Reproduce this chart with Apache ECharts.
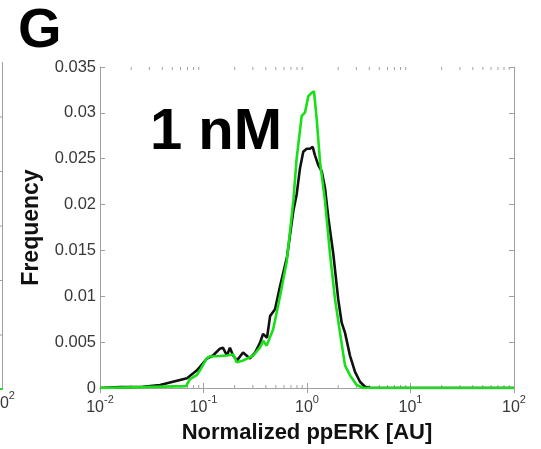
<!DOCTYPE html>
<html>
<head>
<meta charset="utf-8">
<script src="https://cdn.jsdelivr.net/npm/echarts@6/dist/echarts.min.js"></script>
<style>
  html, body { margin: 0; padding: 0; background: #fff; }
  #chart { width: 541px; height: 449px; }
</style>
</head>
<body>
<div id="chart"></div>
<script>
// ppERK distribution at 1 nM: two histogram traces on a log scale
const blackX = [0.01, 0.0156, 0.026, 0.038, 0.0507, 0.0693, 0.0865, 0.108, 0.1236, 0.144, 0.154, 0.1687, 0.180, 0.193, 0.211, 0.241, 0.281, 0.315, 0.352, 0.376, 0.411, 0.440, 0.491, 0.548, 0.641, 0.738, 0.794, 0.855, 0.920, 0.993, 1.069, 1.135, 1.194, 1.285, 1.387, 1.493, 1.607, 1.795, 2.004, 2.163, 2.328, 2.600, 2.911, 3.251, 3.631, 4.064, 7.93, 100];
const blackY = [0, 0.0001, 0.00014, 0.00032, 0.00068, 0.00107, 0.00193, 0.00322, 0.00354, 0.00429, 0.00440, 0.00354, 0.00440, 0.00354, 0.00301, 0.00387, 0.00322, 0.00387, 0.00494, 0.00590, 0.00548, 0.00784, 0.00859, 0.01106, 0.01428, 0.01933, 0.02108, 0.02394, 0.02577, 0.02609, 0.02609, 0.02630, 0.02537, 0.02430, 0.02362, 0.02180, 0.01857, 0.01463, 0.00966, 0.00712, 0.00604, 0.00354, 0.00175, 0.00068, 0.00014, 0.00003, 0, 0];

const greenX = [0.01, 0.0678, 0.0741, 0.0859, 0.0925, 0.1074, 0.1156, 0.144, 0.1675, 0.194, 0.209, 0.2427, 0.303, 0.352, 0.378, 0.408, 0.472, 0.548, 0.636, 0.738, 0.794, 0.889, 0.957, 1.029, 1.109, 1.169, 1.241, 1.335, 1.493, 1.668, 1.866, 2.084, 2.328, 2.600, 3.019, 3.476, 4.064, 100];
const greenY = [0, 0.0002, 0.00097, 0.0014, 0.00193, 0.00322, 0.00344, 0.00349, 0.00354, 0.00365, 0.00282, 0.00301, 0.00354, 0.00443, 0.00515, 0.00462, 0.00644, 0.00998, 0.01374, 0.02040, 0.02502, 0.02967, 0.03006, 0.03181, 0.03218, 0.03235, 0.02931, 0.02469, 0.02040, 0.01463, 0.00966, 0.00604, 0.00247, 0.00140, 0.00032, 0.00003, 0, 0];

// axis ranges and tick positions
const xMin = 0.01, xMax = 100;
const yMin = 0, yMax = 0.035, yStep = 0.005;
const minorTicks = [0.02, 0.03, 0.04, 0.05, 0.06, 0.07, 0.08, 0.09,
                    0.2, 0.3, 0.4, 0.5, 0.6, 0.7, 0.8, 0.9,
                    2, 3, 4, 5, 6, 7, 8, 9,
                    20, 30, 40, 50, 60, 70, 80, 90];

const pairs = (xs, ys) => xs.map((x, i) => [x, ys[i]]);

const boxColor = '#a0a0a0';
const labelColor = '#383838';
const green = '#18e018';
const font = 'Liberation Sans, Arial, sans-serif';

const chart = echarts.init(document.getElementById('chart'), null, { renderer: 'canvas' });

const option = {
  backgroundColor: '#fff',
  animation: false,
  grid: { left: 100, top: 67, right: 27, bottom: 56, containLabel: false },
  xAxis: [
    {
      type: 'log', logBase: 10, min: xMin, max: xMax, position: 'bottom',
      axisLine: { show: true, lineStyle: { color: boxColor, width: 1 } },
      axisTick: { show: true, inside: true, length: 5, lineStyle: { color: boxColor } },
      splitLine: { show: false },
      axisLabel: {
        margin: 6,
        formatter: v => '{b|10}{s|' + Math.round(Math.log10(v)) + '}',
        rich: {
          b: { fontSize: 16, color: labelColor, fontFamily: font, padding: [6, 0, 0, 0] },
          s: { fontSize: 11, color: labelColor, fontFamily: font, verticalAlign: 'top' }
        }
      },
      name: 'Normalized ppERK [AU]', nameLocation: 'middle', nameGap: 34,
      nameTextStyle: { fontSize: 22, fontWeight: 'bold', color: '#111', fontFamily: font }
    },
    {
      type: 'log', logBase: 10, min: xMin, max: xMax, position: 'top',
      axisLine: { show: true, lineStyle: { color: boxColor, width: 1 } },
      axisTick: { show: true, inside: true, length: 5, lineStyle: { color: boxColor } },
      axisLabel: { show: false }, splitLine: { show: false }
    }
  ],
  yAxis: [
    {
      type: 'value', min: yMin, max: yMax, interval: yStep, position: 'left',
      axisLine: { show: true, lineStyle: { color: boxColor, width: 1 } },
      axisTick: { show: true, inside: true, length: 5, lineStyle: { color: boxColor } },
      splitLine: { show: false },
      axisLabel: {
        margin: 4, fontSize: 16.5, color: labelColor, fontFamily: font,
        formatter: v => String(parseFloat(v.toFixed(4)))
      },
      name: 'Frequency', nameLocation: 'middle', nameGap: 57, nameRotate: 90,
      nameTextStyle: { fontSize: 23, fontWeight: 'bold', color: '#111', fontFamily: font }
    },
    {
      type: 'value', min: yMin, max: yMax, interval: yStep, position: 'right',
      axisLine: { show: true, lineStyle: { color: boxColor, width: 1 } },
      axisTick: { show: true, inside: true, length: 5, lineStyle: { color: boxColor } },
      axisLabel: { show: false }, splitLine: { show: false }
    }
  ],
  series: [
    {
      name: 'minor ticks', type: 'custom', xAxisIndex: 0, yAxisIndex: 0,
      silent: true, clip: false, z: 1,
      data: minorTicks.map(v => [v, 0]),
      renderItem: (params, api) => {
        const b = api.coord([api.value(0), yMin]);
        const t = api.coord([api.value(0), yMax]);
        const st = { stroke: boxColor, lineWidth: 1 };
        return {
          type: 'group',
          children: [
            { type: 'line', shape: { x1: b[0], y1: b[1], x2: b[0], y2: b[1] - 3 }, style: st },
            { type: 'line', shape: { x1: t[0], y1: t[1], x2: t[0], y2: t[1] + 3 }, style: st }
          ]
        };
      }
    },
    {
      name: 'black', type: 'line', xAxisIndex: 0, yAxisIndex: 0,
      data: pairs(blackX, blackY), showSymbol: false, smooth: false,
      lineStyle: { color: '#111111', width: 2.6 }, z: 3
    },
    {
      name: 'green', type: 'line', xAxisIndex: 0, yAxisIndex: 0,
      data: pairs(greenX, greenY), showSymbol: false, smooth: false,
      lineStyle: { color: green, width: 2.6 }, z: 4
    }
  ],
  graphic: [
    // panel letter and condition label
    { type: 'text', left: 18, top: 4, style: { text: 'G', font: 'bold 56px ' + font, fill: '#000' } },
    { type: 'text', left: 150, top: 104, style: { text: '1 nM', font: 'bold 58px ' + font, fill: '#000' } },
    // right edge of the neighbouring panel
    { type: 'line', shape: { x1: 2.5, y1: 62, x2: 2.5, y2: 390 }, style: { stroke: boxColor, lineWidth: 1 } },
    { type: 'line', shape: { x1: 0, y1: 389, x2: 2.5, y2: 389 }, style: { stroke: green, lineWidth: 2 } },
    { type: 'line', shape: { x1: 0, y1: 117, x2: 2.5, y2: 117 }, style: { stroke: boxColor, lineWidth: 1 } },
    { type: 'line', shape: { x1: 0, y1: 171.5, x2: 2.5, y2: 171.5 }, style: { stroke: boxColor, lineWidth: 1 } },
    { type: 'line', shape: { x1: 0, y1: 226, x2: 2.5, y2: 226 }, style: { stroke: boxColor, lineWidth: 1 } },
    { type: 'line', shape: { x1: 0, y1: 280.5, x2: 2.5, y2: 280.5 }, style: { stroke: boxColor, lineWidth: 1 } },
    { type: 'line', shape: { x1: 0, y1: 335, x2: 2.5, y2: 335 }, style: { stroke: boxColor, lineWidth: 1 } },
    {
      type: 'text', left: -9, top: 390,
      style: {
        text: '{b|10}{s|2}',
        rich: {
          b: { fontSize: 16, fill: labelColor, fontFamily: font, padding: [6, 0, 0, 0] },
          s: { fontSize: 11, fill: labelColor, fontFamily: font, verticalAlign: 'top' }
        }
      }
    }
  ]
};

chart.setOption(option);
</script>
</body>
</html>
